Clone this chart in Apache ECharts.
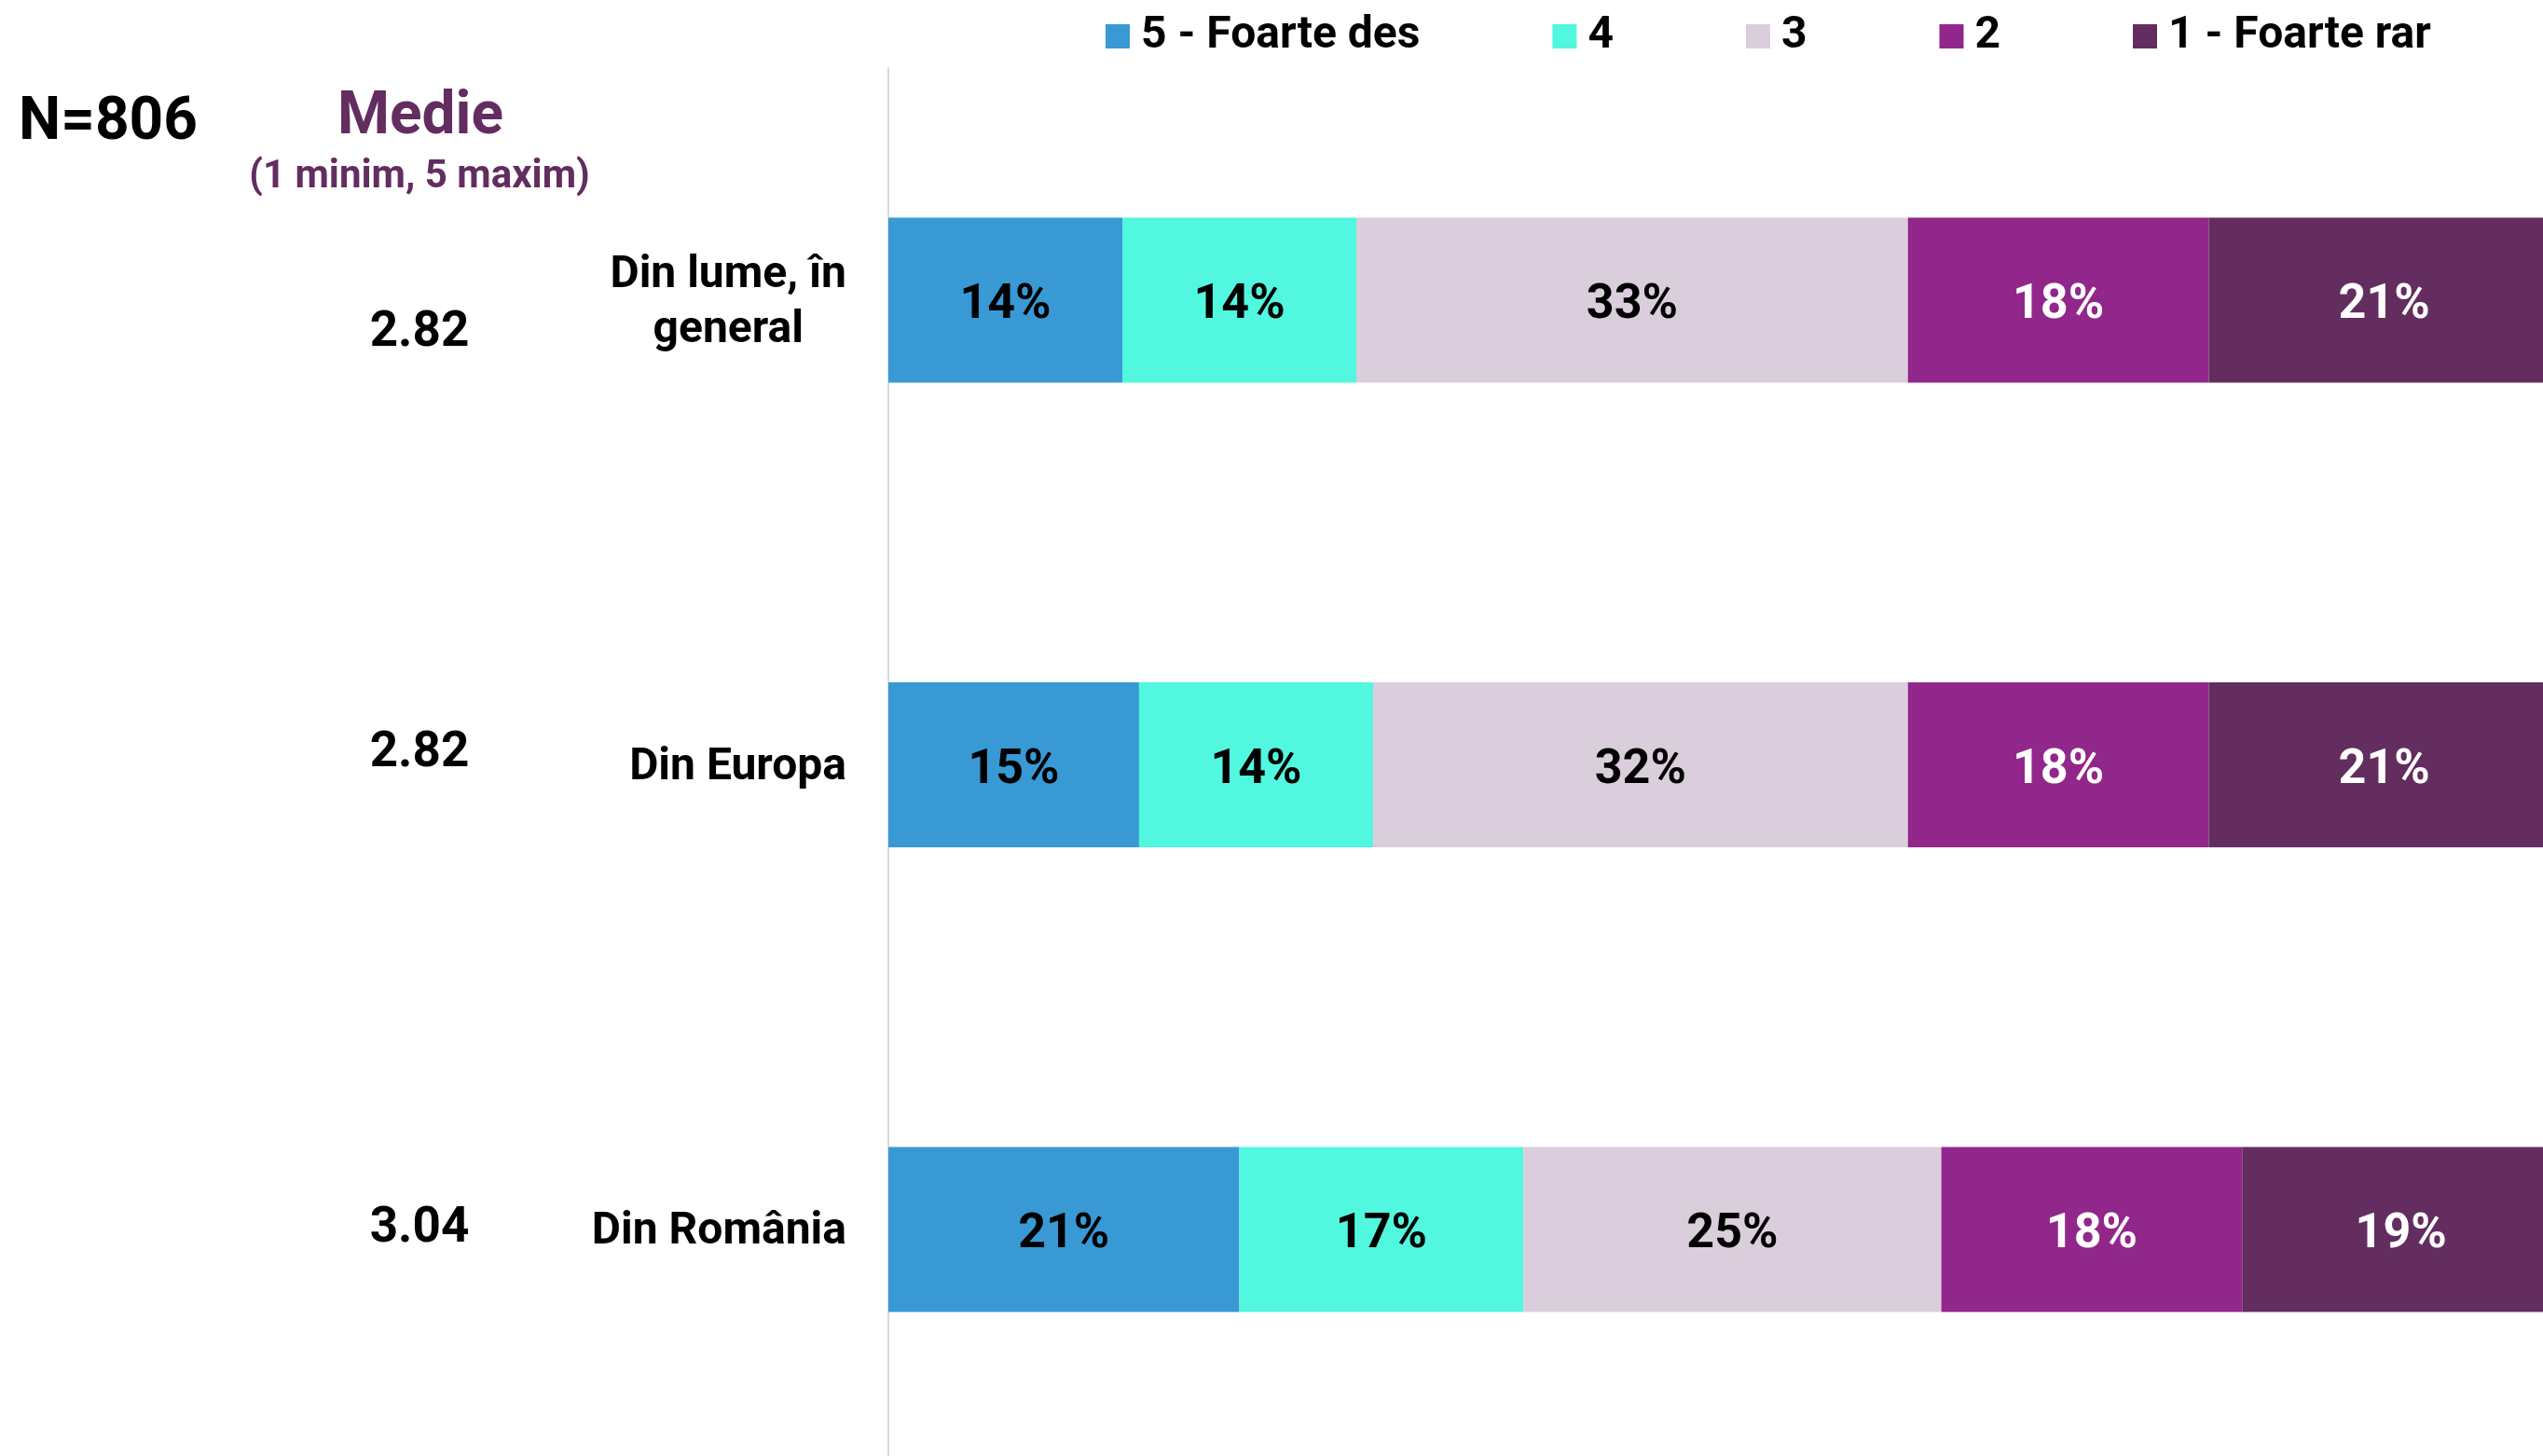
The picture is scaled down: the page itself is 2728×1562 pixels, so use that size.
<!DOCTYPE html>
<html>
<head>
<meta charset="utf-8">
<script src="https://cdn.jsdelivr.net/npm/echarts@6/dist/echarts.min.js"></script>
<style>
  html, body { margin: 0; padding: 0; background: #fff; }
  #chart { width: 2728px; height: 1562px; }
</style>
</head>
<body>
<div id="chart"></div>
<script>
const categories = ["Din lume, în\ngeneral", "Din Europa", "Din România"];
const seriesNames = ["5 - Foarte des", "4", "3", "2", "1 - Foarte rar"];
const veryOften = [14, 15, 21];
const often = [14, 14, 17];
const middle = [33, 32, 25];
const rarely = [18, 18, 18];
const veryRarely = [21, 21, 19];
const means = ["2.82", "2.82", "3.04"];

const colors = ["#3899d4", "#51f7df", "#dbcedc", "#91278b", "#632d5f"];
const labelColors = ["#000", "#000", "#000", "#fff", "#fff"];
const meanOffsets = [36, -12, 0];

const FONT = "Roboto";
const chart = echarts.init(document.getElementById("chart"));

const values = [veryOften, often, middle, rarely, veryRarely];

// the source chart is cut at the right edge, so the 100% end lies past the canvas
const barSeries = values.map((data, i) => ({
    name: seriesNames[i],
    type: "bar",
    stack: "total",
    barWidth: 177,
    clip: false,
    xAxisIndex: 0,
    yAxisIndex: 0,
    itemStyle: { color: colors[i] },
    label: {
        show: true,
        position: "inside",
        offset: [0, 6],
        formatter: (p) => p.value + "%",
        color: labelColors[i],
        fontFamily: FONT,
        fontWeight: "bold",
        fontSize: 52,
    },
    data: data,
}));

const meanSeries = {
    type: "scatter",
    xAxisIndex: 1,
    yAxisIndex: 1,
    symbolSize: 0,
    silent: true,
    itemStyle: { opacity: 1 },
    data: means.map((m, i) => ({
        value: [0.5, i],
        label: { offset: [0, meanOffsets[i]] },
    })),
    label: {
        show: true,
        position: "inside",
        formatter: (p) => means[p.dataIndex],
        color: "#000",
        opacity: 1,
        fontFamily: FONT,
        fontWeight: "bold",
        fontSize: 53,
    },
};

// rows sit on category points; a third grid only carries the full-height axis line
const option = {
    animation: false,
    backgroundColor: "#fff",
    legend: {
        data: seriesNames,
        left: 1181,
        top: 6,
        icon: "rect",
        itemWidth: 26,
        itemHeight: 26,
        itemGap: 142,
        textStyle: {
            fontFamily: FONT,
            fontWeight: "bold",
            fontSize: 48,
            color: "#000",
            lineHeight: 56,
            padding: [0, 0, 0, 7],
        },
    },
    grid: [
        { left: 953, top: 322, right: 0, bottom: 243 },
        { left: 350, top: 322, width: 200, bottom: 243 },
        { left: 953, top: 73, right: 0, bottom: 0 },
    ],
    xAxis: [
        { type: "value", gridIndex: 0, min: 0, max: 99, show: false, splitLine: { show: false } },
        { type: "value", gridIndex: 1, min: 0, max: 1, show: false, splitLine: { show: false } },
        { type: "value", gridIndex: 2, min: 0, max: 1, show: false, splitLine: { show: false } },
    ],
    yAxis: [
        {
            type: "category",
            gridIndex: 0,
            inverse: true,
            boundaryGap: false,
            data: categories,
            axisLine: { show: false },
            axisTick: { show: false },
            axisLabel: {
                margin: 45,
                align: "right",
                padding: [6, 0, 0, 0],
                formatter: (v) => v.split("\n").map((s) => "{c|" + s + "}").join("\n"),
                rich: {
                    c: {
                        align: "center",
                        fontFamily: FONT,
                        fontWeight: "bold",
                        fontSize: 48,
                        lineHeight: 59,
                        color: "#000",
                    },
                },
            },
        },
        {
            type: "category",
            gridIndex: 1,
            inverse: true,
            boundaryGap: false,
            data: categories,
            show: false,
        },
        {
            type: "category",
            gridIndex: 2,
            data: [],
            axisLine: { show: true, lineStyle: { color: "#d9d9d9", width: 2 } },
            axisTick: { show: false },
            axisLabel: { show: false },
            splitLine: { show: false },
        },
    ],
    graphic: [
        {
            type: "text",
            x: 20,
            y: 133,
            style: {
                text: "N=806",
                fontFamily: FONT,
                fontWeight: "bold",
                fontSize: 64,
                fill: "#000",
                align: "left",
                verticalAlign: "middle",
            },
        },
        {
            type: "text",
            x: 451,
            y: 127,
            style: {
                text: "Medie",
                fontFamily: FONT,
                fontWeight: "bold",
                fontSize: 64,
                fill: "#632d5f",
                align: "center",
                verticalAlign: "middle",
            },
        },
        {
            type: "text",
            x: 450,
            y: 190,
            style: {
                text: "(1 minim, 5 maxim)",
                fontFamily: FONT,
                fontWeight: "bold",
                fontSize: 42,
                fill: "#632d5f",
                align: "center",
                verticalAlign: "middle",
            },
        },
    ],
    series: [...barSeries, meanSeries],
};

chart.setOption(option);
</script>
</body>
</html>
